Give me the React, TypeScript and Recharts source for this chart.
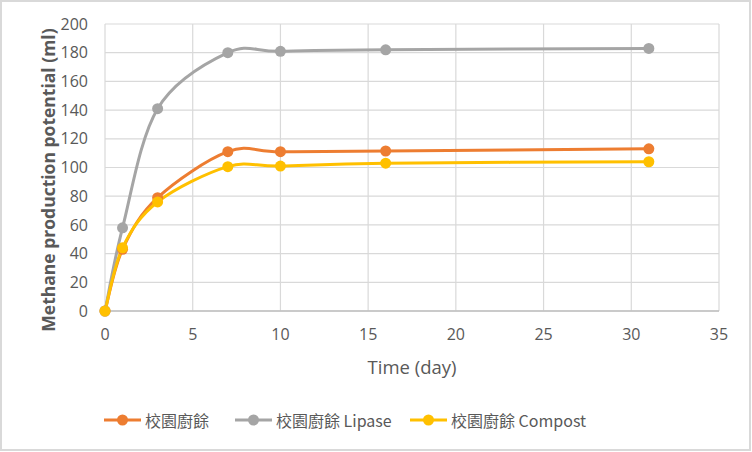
import React from 'react';
import { LineChart, Line, XAxis, YAxis, CartesianGrid, Legend } from 'recharts';

const days = [0, 1, 3, 7, 10, 16, 31];
const foodWaste = [0, 43, 79, 111, 111, 111.5, 113];
const foodWasteLipase = [0, 58, 141, 180, 181, 182, 183];
const foodWasteCompost = [0, 44, 76, 100.6, 101, 103, 104];
const xTicks = [0, 5, 10, 15, 20, 25, 30, 35];
const yTicks = [0, 20, 40, 60, 80, 100, 120, 140, 160, 180, 200];

const seriesNames = ['校園廚餘', '校園廚餘 Lipase', '校園廚餘 Compost'];
const seriesKeys = ['a', 'b', 'c'];
const seriesColors = ['#ED7D31', '#A5A5A5', '#FFC000'];
const legendLefts = [104, 235, 410];

const data = days.map((d, i) => ({
  day: d,
  a: foodWaste[i],
  b: foodWasteLipase[i],
  c: foodWasteCompost[i],
}));

// Excel-like smoothed line (uniform Catmull-Rom as cubic Beziers)
const excelSmooth: any = (context: any) => {
  let pts: [number, number][] = [];
  return {
    areaStart() {},
    areaEnd() {},
    lineStart() {
      pts = [];
    },
    point(x: number, y: number) {
      pts.push([+x, +y]);
    },
    lineEnd() {
      const n = pts.length;
      if (!n) return;
      context.moveTo(pts[0][0], pts[0][1]);
      for (let i = 0; i < n - 1; i++) {
        const p0 = pts[i - 1] || pts[i];
        const p1 = pts[i];
        const p2 = pts[i + 1];
        const p3 = pts[i + 2] || p2;
        context.bezierCurveTo(
          p1[0] + (p2[0] - p0[0]) / 6,
          p1[1] + (p2[1] - p0[1]) / 6,
          p2[0] - (p3[0] - p1[0]) / 6,
          p2[1] - (p3[1] - p1[1]) / 6,
          p2[0],
          p2[1]
        );
      }
    },
  };
};

const FONT = '"Open Sans", "Noto Sans", sans-serif';
const TEXT = '#595959';

const LegendContent = () => (
  <div style={{ position: 'relative', height: 32, width: 752 }}>
    {seriesNames.map((name, i) => (
      <div
        key={name}
        style={{
          position: 'absolute',
          left: legendLefts[i],
          top: 0,
          height: 32,
          display: 'flex',
          alignItems: 'center',
          whiteSpace: 'nowrap',
        }}
      >
        <svg width={37} height={14} style={{ marginRight: 4 }}>
          <line x1={0} y1={7} x2={37} y2={7} stroke={seriesColors[i]} strokeWidth={3} />
          <circle cx={18.5} cy={7} r={5.5} fill={seriesColors[i]} />
        </svg>
        <span
          style={{
            fontFamily: '"Noto Sans CJK TC", "Noto Sans", sans-serif',
            fontSize: 16,
            color: TEXT,
          }}
        >
          {name}
        </span>
      </div>
    ))}
  </div>
);

export default function App() {
  return (
    <div style={{ position: 'absolute', left: 0, top: 0, width: 752, height: 452, background: '#fff' }}>
      <LineChart
        width={752}
        height={452}
        data={data}
        margin={{ top: 24, right: 33, left: 0, bottom: 16 }}
      >
        <CartesianGrid stroke="#D9D9D9" strokeWidth={1.2} />
        <XAxis
          dataKey="day"
          type="number"
          domain={[0, 35]}
          ticks={xTicks}
          interval={0}
          height={93}
          tickLine={false}
          tickSize={0}
          tickMargin={18}
          axisLine={{ stroke: '#BFBFBF', strokeWidth: 1.5 }}
          tick={{ fill: TEXT, fontSize: 16, fontFamily: FONT }}
          label={{
            value: 'Time (day)',
            content: (props: any) => (
              <text
                x={412}
                y={366}
                textAnchor="middle"
                dominantBaseline="central"
                fill={TEXT}
                fontSize={18.5}
                fontFamily={FONT}
              >
                Time (day)
              </text>
            ),
          }}
        />
        <YAxis
          type="number"
          domain={[0, 200]}
          ticks={yTicks}
          interval={0}
          width={105}
          tickLine={false}
          tickSize={0}
          tickMargin={17}
          axisLine={false}
          tick={{ fill: TEXT, fontSize: 16, fontFamily: FONT }}
          label={{
            value: 'Methane production potential (ml)',
            content: (props: any) => (
              <text
                x={48}
                y={180}
                transform="rotate(-90, 48, 180)"
                textAnchor="middle"
                dominantBaseline="central"
                fill={TEXT}
                fontSize={17.5}
                fontWeight="bold"
                fontFamily={FONT}
              >
                Methane production potential (ml)
              </text>
            ),
          }}
        />
        <Legend verticalAlign="bottom" height={32} content={<LegendContent />} />
        {seriesKeys.map((k, i) => (
          <Line
            key={k}
            dataKey={k}
            name={seriesNames[i]}
            type={excelSmooth}
            stroke={seriesColors[i]}
            strokeWidth={3}
            dot={{ r: 5.5, fill: seriesColors[i], stroke: seriesColors[i], strokeWidth: 0 }}
            activeDot={false}
            isAnimationActive={false}
          />
        ))}
      </LineChart>
      <div
        style={{
          position: 'absolute',
          left: 0,
          top: 0,
          width: 751,
          height: 451,
          border: '2px solid #D9D9D9',
          boxSizing: 'border-box',
          pointerEvents: 'none',
        }}
      />
    </div>
  );
}
